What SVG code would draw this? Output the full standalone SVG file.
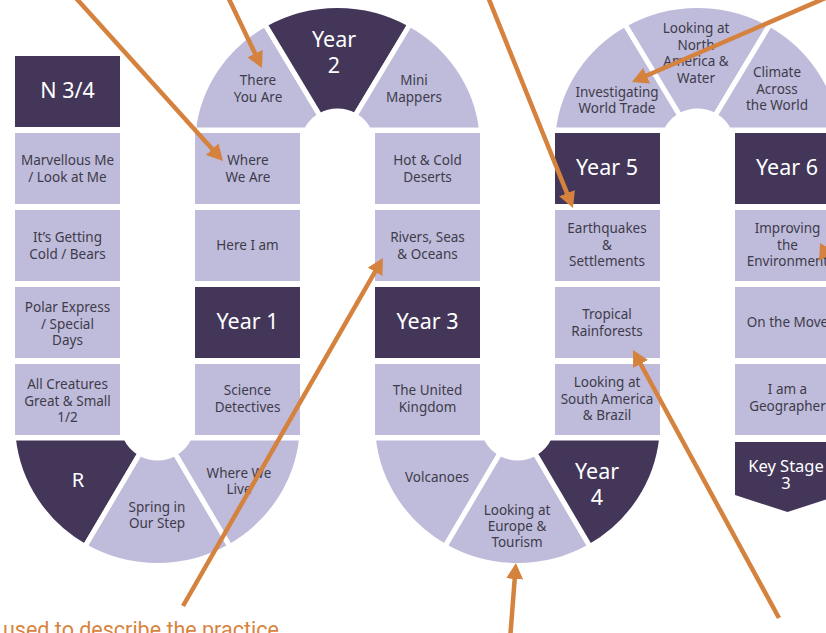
<svg xmlns="http://www.w3.org/2000/svg" width="826" height="633" viewBox="0 0 826 633">
<style>
.lt{fill:#bfbbdb}
.dk{fill:#433659}
.seg{stroke:#fff;stroke-width:5;stroke-linejoin:round}
text{font-family:"Noto Sans","DejaVu Sans",sans-serif;text-anchor:middle}
.t{font-size:13.5px;fill:#3e3b4a}
.y{font-size:21.5px;fill:#fff}
.k{font-size:16.5px;fill:#fff}
.arr{stroke:#d4823e;stroke-width:4.5;fill:none;marker-end:url(#ah)}
.note{font-family:Roboto,"Liberation Sans",sans-serif;font-size:21.5px;fill:#d8843f;text-anchor:start}
</style>
<defs>
<marker id="ah" viewBox="0 0 16 17" refX="8" refY="8.5" markerWidth="16" markerHeight="17" markerUnits="userSpaceOnUse" orient="auto">
<path d="M0,0 L16,8.5 L0,17 Z" fill="#d4823e"/>
</marker>
</defs>
<rect width="826" height="633" fill="#fff"/>

<!-- Column 1 -->
<g id="n34"><rect class="dk" x="15" y="56" width="105" height="71"/><text class="y" x="67.5" y="98">N 3/4</text></g>
<g id="marvellous"><rect class="lt" x="15" y="133" width="105" height="71"/><text class="t" x="67.5" y="165">Marvellous Me<tspan x="67.5" dy="16.5">/ Look at Me</tspan></text></g>
<g id="cold"><rect class="lt" x="15" y="210" width="105" height="71"/><text class="t" x="67.5" y="242">It’s Getting<tspan x="67.5" dy="16.5">Cold / Bears</tspan></text></g>
<g id="polar"><rect class="lt" x="15" y="287" width="105" height="71"/><text class="t" x="67.5" y="312">Polar Express<tspan x="67.5" dy="16.5">/ Special</tspan><tspan x="67.5" dy="16.5">Days</tspan></text></g>
<g id="creatures"><rect class="lt" x="15" y="364" width="105" height="71"/><text class="t" x="67.5" y="389">All Creatures<tspan x="67.5" dy="16.5">Great &amp; Small</tspan><tspan x="67.5" dy="16.5">1/2</tspan></text></g>

<!-- Bottom U 1-2 -->
<g id="r"><path class="dk seg" d="M13.31 438 A145 142.5 0 0 0 85 546.41 L140 453.31 A35 35 0 0 1 125.88 438 Z"/><text class="y" x="78" y="487" style="font-size:20px">R</text></g>
<g id="spring"><path class="lt seg" d="M85 546.41 A145 142.5 0 0 0 230 546.41 L175 453.31 A35 35 0 0 1 140 453.31 Z"/><text class="t" x="157" y="512">Spring in<tspan x="157" dy="16">Our Step</tspan></text></g>
<g id="wherewelive"><path class="lt seg" d="M230 546.41 A145 142.5 0 0 0 301.69 438 L189.12 438 A35 35 0 0 1 175 453.31 Z"/><text class="t" x="239" y="478">Where We<tspan x="239" dy="16">Live</tspan></text></g>

<!-- Column 2 -->
<g id="whereweare"><rect class="lt" x="195" y="133" width="105" height="71"/><text class="t" x="248" y="165">Where<tspan x="248" dy="16.5">We Are</tspan></text></g>
<g id="hereiam"><rect class="lt" x="195" y="210" width="105" height="71"/><text class="t" x="247.5" y="250">Here I am</text></g>
<g id="year1"><rect class="dk" x="195" y="287" width="105" height="71"/><text class="y" x="247.5" y="329">Year 1</text></g>
<g id="science"><rect class="lt" x="195" y="364" width="105" height="71"/><text class="t" x="247.5" y="395">Science<tspan x="247.5" dy="16.5">Detectives</tspan></text></g>

<!-- Top arch 2-3 -->
<g id="thereyouare"><path class="lt seg" d="M193.44 130 A145 140.5 0 0 1 265 24.32 L320 115.69 A35 35 0 0 0 306.37 130 Z"/><text class="t" x="258" y="85">There<tspan x="258" dy="16.5">You Are</tspan></text></g>
<g id="year2"><path class="dk seg" d="M265 24.32 A145 140.5 0 0 1 410 24.32 L355 115.69 A35 35 0 0 0 320 115.69 Z"/><text class="y" x="334" y="47">Year<tspan x="334" dy="26">2</tspan></text></g>
<g id="minimappers"><path class="lt seg" d="M410 24.32 A145 140.5 0 0 1 481.56 130 L368.63 130 A35 35 0 0 0 355 115.69 Z"/><text class="t" x="414" y="85">Mini<tspan x="414" dy="16.5">Mappers</tspan></text></g>

<!-- Column 3 -->
<g id="deserts"><rect class="lt" x="375" y="133" width="105" height="71"/><text class="t" x="427.5" y="165">Hot &amp; Cold<tspan x="427.5" dy="16.5">Deserts</tspan></text></g>
<g id="rivers"><rect class="lt" x="375" y="210" width="105" height="71"/><text class="t" x="427.5" y="242">Rivers, Seas<tspan x="427.5" dy="16.5">&amp; Oceans</tspan></text></g>
<g id="year3"><rect class="dk" x="375" y="287" width="105" height="71"/><text class="y" x="427.5" y="329">Year 3</text></g>
<g id="uk"><rect class="lt" x="375" y="364" width="105" height="71"/><text class="t" x="427.5" y="395">The United<tspan x="427.5" dy="16.5">Kingdom</tspan></text></g>

<!-- Bottom U 3-4 -->
<g id="volcanoes"><path class="lt seg" d="M373.31 438 A145 142.5 0 0 0 445 546.41 L500 453.31 A35 35 0 0 1 485.88 438 Z"/><text class="t" x="437" y="482">Volcanoes</text></g>
<g id="europe"><path class="lt seg" d="M445 546.41 A145 142.5 0 0 0 590 546.41 L535 453.31 A35 35 0 0 1 500 453.31 Z"/><text class="t" x="517" y="515">Looking at<tspan x="517" dy="16">Europe &amp;</tspan><tspan x="517" dy="16">Tourism</tspan></text></g>
<g id="year4"><path class="dk seg" d="M590 546.41 A145 142.5 0 0 0 661.69 438 L549.12 438 A35 35 0 0 1 535 453.31 Z"/><text class="y" x="597" y="479">Year<tspan x="597" dy="26">4</tspan></text></g>

<!-- Column 4 -->
<g id="year5"><rect class="dk" x="555" y="133" width="105" height="71"/><text class="y" x="607" y="175">Year 5</text></g>
<g id="earthquakes"><rect class="lt" x="555" y="210" width="105" height="71"/><text class="t" x="607" y="233">Earthquakes<tspan x="607" dy="16.5">&amp;</tspan><tspan x="607" dy="16.5">Settlements</tspan></text></g>
<g id="rainforests"><rect class="lt" x="555" y="287" width="105" height="71"/><text class="t" x="607" y="319">Tropical<tspan x="607" dy="16.5">Rainforests</tspan></text></g>
<g id="southamerica"><rect class="lt" x="555" y="364" width="105" height="71"/><text class="t" x="607" y="387">Looking at<tspan x="607" dy="16.5">South America</tspan><tspan x="607" dy="16.5">&amp; Brazil</tspan></text></g>

<!-- Top arch 4-5 -->
<g id="worldtrade"><path class="lt seg" d="M553.44 130 A145 140.5 0 0 1 625 24.32 L680 115.69 A35 35 0 0 0 666.37 130 Z"/><text class="t" x="617" y="97">Investigating<tspan x="617" dy="16">World Trade</tspan></text></g>
<g id="northamerica"><path class="lt seg" d="M625 24.32 A145 140.5 0 0 1 770 24.32 L715 115.69 A35 35 0 0 0 680 115.69 Z"/><text class="t" x="696" y="33">Looking at<tspan x="696" dy="16.5">North</tspan><tspan x="696" dy="16.5">America &amp;</tspan><tspan x="696" dy="16.5">Water</tspan></text></g>
<g id="climate"><path class="lt seg" d="M770 24.32 A145 140.5 0 0 1 841.56 130 L728.63 130 A35 35 0 0 0 715 115.69 Z"/><text class="t" x="777" y="77">Climate<tspan x="777" dy="16.5">Across</tspan><tspan x="777" dy="16.5">the World</tspan></text></g>

<!-- Column 5 -->
<g id="year6"><rect class="dk" x="735" y="133" width="105" height="71"/><text class="y" x="787" y="175">Year 6</text></g>
<g id="environment"><rect class="lt" x="735" y="210" width="105" height="71"/><text class="t" x="787.5" y="233">Improving<tspan x="787.5" dy="16.5">the</tspan><tspan x="787.5" dy="16.5">Environment</tspan></text></g>
<g id="onthemove"><rect class="lt" x="735" y="287" width="105" height="71"/><text class="t" x="787.5" y="327">On the Move</text></g>
<g id="geographer"><rect class="lt" x="735" y="364" width="105" height="71"/><text class="t" x="787.5" y="394">I am a<tspan x="787.5" dy="16.5">Geographer</tspan></text></g>
<g id="keystage3"><polygon class="dk" points="735,442 840,442 840,495 787.5,512 735,495"/><text class="k" x="786" y="472">Key Stage<tspan x="786" dy="17">3</tspan></text></g>

<!-- Connectors -->
<g id="connectors">
<line class="arr" x1="75" y1="-3" x2="217.6" y2="155.1"/>
<line class="arr" x1="228" y1="-3" x2="258.5" y2="60.8"/>
<line class="arr" x1="488" y1="-3" x2="570" y2="200.6"/>
<line class="arr" x1="830" y1="-4" x2="639.3" y2="78.8"/>
<line class="arr" x1="183" y1="606" x2="379" y2="264.9"/>
<line class="arr" x1="510" y1="640" x2="515.3" y2="571"/>
<line class="arr" x1="779" y1="618" x2="636.8" y2="357"/>
<line class="arr" x1="850" y1="210" x2="823.2" y2="254.2"/>
</g>

<text class="note" x="3" y="637">used to describe the practice</text>
</svg>
